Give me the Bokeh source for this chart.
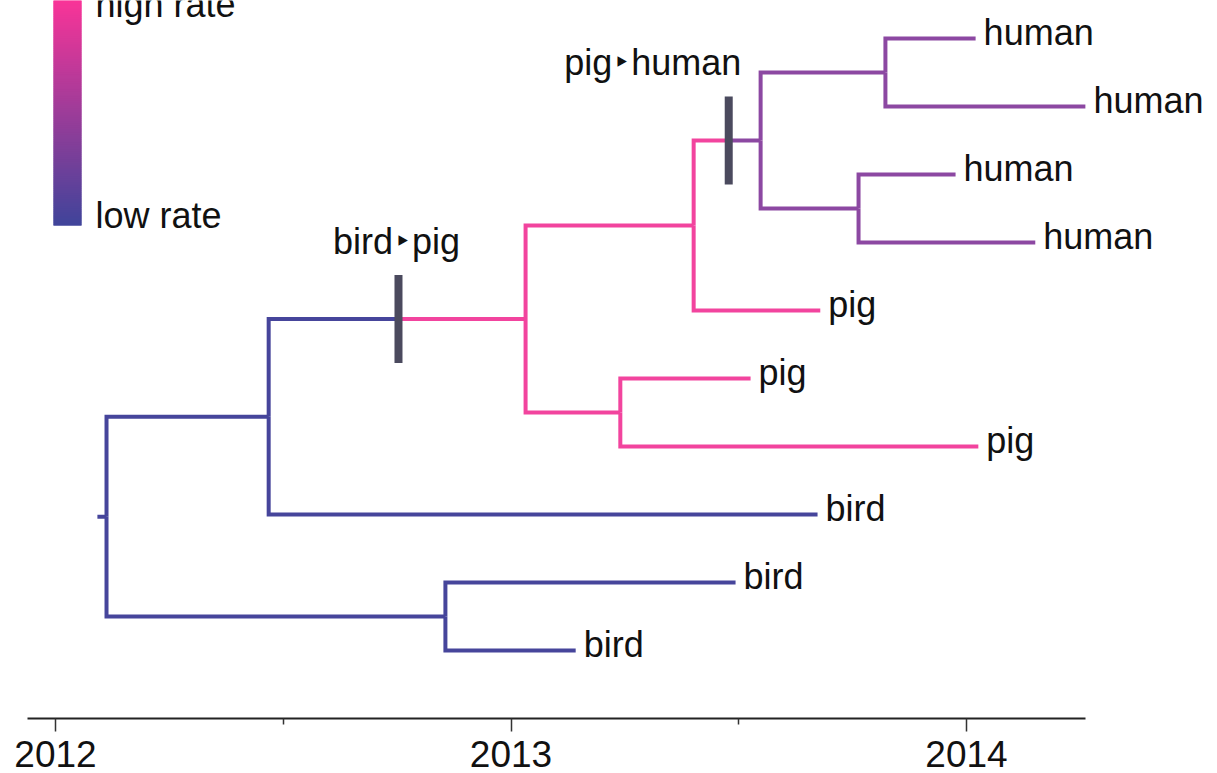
from collections import defaultdict

from bokeh.plotting import figure
from bokeh.models import Range1d, FixedTicker, PrintfTickFormatter, ColumnDataSource
from bokeh.core.properties import value
from bokeh.embed import file_html
from bokeh.resources import INLINE

# ---- tree data -------------------------------------------------------------
# tips, listed top to bottom
tip_hosts = ["human", "human", "human", "human", "pig", "pig", "pig", "bird", "bird", "bird"]
tip_dates = [2014.020, 2014.261, 2013.976, 2014.151, 2013.679, 2013.526, 2014.026,
             2013.673, 2013.493, 2013.142]
tip_parents = ["n7", "n7", "n8", "n8", "n4", "n5", "n5", "n1", "n2", "n2"]

# internal nodes
node_names = ["root", "n1", "n2", "n3", "n4", "n5", "n6", "n7", "n8"]
node_dates = [2012.112, 2012.468, 2012.856, 2013.032, 2013.401, 2013.240, 2013.548,
              2013.822, 2013.763]
node_parents = [None, "root", "root", "n1", "n3", "n3", "n4", "n6", "n6"]
node_hosts = ["bird", "bird", "bird", "pig", "pig", "pig", "human", "human", "human"]
root_branch_start = 2012.092

# host jumps on branches (branch named by its child node)
jump_nodes = ["n3", "n6"]
jump_dates = [2012.753, 2013.478]
jump_labels = ["bird\u200a\u2023\u200apig", "pig\u200a\u2023\u200ahuman"]

year_ticks = [2012, 2013, 2014]
half_year_ticks = [2012.5, 2013.5]

host_colors = {"bird": "#46459B", "pig": "#F2449E", "human": "#8C48A2"}
rate_high = (250, 52, 152)
rate_low = (64, 68, 154)

FONT = "Liberation Sans"
TEXT = "#111111"

# ---- build tree geometry ---------------------------------------------------
date, host, parent = {}, {}, {}
children = defaultdict(list)
for i, (h, d, pa) in enumerate(zip(tip_hosts, tip_dates, tip_parents)):
    n = f"t{i}"
    date[n], host[n], parent[n] = d, h, pa
    children[pa].append(n)
for n, d, pa, h in zip(node_names, node_dates, node_parents, node_hosts):
    date[n], host[n], parent[n] = d, h, pa
    if pa is not None:
        children[pa].append(n)

ypos = {f"t{i}": float(i) for i in range(len(tip_hosts))}


def y_of(n):
    if n not in ypos:
        ys = [y_of(c) for c in children[n]]
        ypos[n] = sum(ys) / len(ys)
    return ypos[n]


for n in node_names:
    y_of(n)

jumps = dict(zip(jump_nodes, jump_dates))

xs, ys, cols = [], [], []
ry = ypos["root"]
xs.append([root_branch_start, date["root"]])
ys.append([ry, ry])
cols.append(host_colors[host["root"]])
for n in list(date):
    pa = parent[n]
    if pa is None:
        continue
    px, py, cx, cy = date[pa], ypos[pa], date[n], ypos[n]
    if n in jumps:
        j = jumps[n]
        xs.append([px, px, j]); ys.append([py, cy, cy]); cols.append(host_colors[host[pa]])
        xs.append([j, cx]); ys.append([cy, cy]); cols.append(host_colors[host[n]])
    else:
        xs.append([px, px, cx]); ys.append([py, cy, cy]); cols.append(host_colors[host[n]])

# ---- figure ----------------------------------------------------------------
PX_PER_YEAR = 455.5
x_start = 2012 - 55 / PX_PER_YEAR
x_end = x_start + 1217 / PX_PER_YEAR
ROW = 68.0
p = figure(width=1217, height=773,
           x_range=Range1d(x_start, x_end),
           y_range=Range1d(start=(718 - 38) / ROW, end=-38 / ROW),
           output_backend="svg", toolbar_location=None,
           y_axis_location=None,
           min_border_left=0, min_border_right=0, min_border_top=0, min_border_bottom=55)
p.grid.visible = False
p.outline_line_color = None
p.background_fill_color = "white"
p.border_fill_color = "white"

p.multi_line(xs=xs, ys=ys, line_color=cols, line_width=4, line_join="miter", line_cap="butt")

# host-jump bars and labels
jy = [ypos[n] for n in jump_nodes]
half_bar = 44 / ROW
p.segment(x0=jump_dates, y0=[y - half_bar for y in jy], x1=jump_dates,
          y1=[y + half_bar for y in jy], line_width=8, line_color="#4B4A5E")
jsrc = ColumnDataSource(dict(x=jump_dates, y=[y - half_bar for y in jy], text=jump_labels,
                             dx=[-2, -76]))
p.text(x="x", y="y", text="text", source=jsrc, x_offset="dx", y_offset=-34,
       text_align="center", text_baseline="alphabetic",
       text_font=value(FONT), text_font_size="36px", text_color=TEXT)

# tip labels
p.text(x=tip_dates, y=[ypos[f"t{i}"] for i in range(len(tip_hosts))], text=tip_hosts,
       x_offset=8, y_offset=-6, text_align="left", text_baseline="alphabetic",
       text_font=value(FONT), text_font_size="36px", text_color=TEXT)

# rate legend: vertical gradient bar
bar_left = 2012 - 2 / PX_PER_YEAR
bar_right = 2012 + 26 / PX_PER_YEAR
bar_top = -40 / ROW
bar_bottom = (225 - 38) / ROW
steps = 120
step = (bar_bottom - bar_top) / steps
tops, bottoms, fills = [], [], []
for k in range(steps):
    t = k / (steps - 1)
    rgb = tuple(round(a + (b - a) * t) for a, b in zip(rate_high, rate_low))
    tops.append(bar_top + k * step)
    bottoms.append(min(bar_top + (k + 2) * step, bar_bottom))
    fills.append("#%02x%02x%02x" % rgb)
p.quad(left=bar_left, right=bar_right, top=tops, bottom=bottoms,
       fill_color=fills, line_color=None)
p.text(x=[2012 + 40 / PX_PER_YEAR] * 2, y=[(4 - 38) / ROW, (215 - 38) / ROW],
       text=["high rate", "low rate"], text_align="left", text_baseline="alphabetic",
       text_font=value(FONT), text_font_size="36px", text_color=TEXT)

# time axis
ax = p.xaxis[0]
ax.ticker = FixedTicker(ticks=year_ticks, minor_ticks=half_year_ticks)
ax.formatter = PrintfTickFormatter(format="%d")
ax.bounds = (2012 - 28 / PX_PER_YEAR, 2012 + 1030 / PX_PER_YEAR)
ax.axis_line_width = 2
ax.axis_line_color = "#222222"
ax.major_tick_in = 0
ax.major_tick_out = 13
ax.minor_tick_in = 0
ax.minor_tick_out = 6
ax.major_tick_line_color = "#333333"
ax.minor_tick_line_color = "#333333"
ax.major_tick_line_width = 1.5
ax.minor_tick_line_width = 1.5
ax.major_label_standoff = 9
ax.major_label_text_font = FONT
ax.major_label_text_font_size = "37px"
ax.major_label_text_color = TEXT

open("out.html", "w").write(file_html(p, INLINE))
